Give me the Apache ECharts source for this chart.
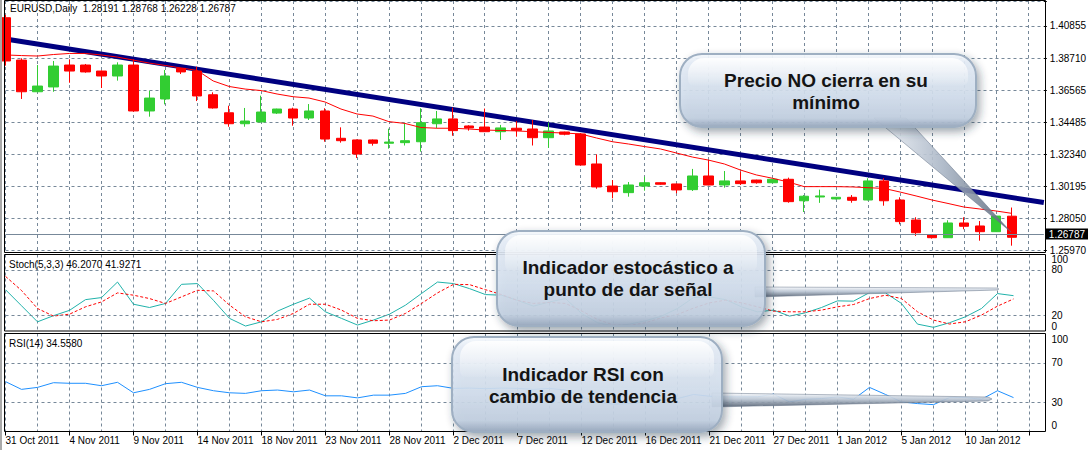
<!DOCTYPE html>
<html>
<head>
<meta charset="utf-8">
<script src="https://cdn.jsdelivr.net/npm/echarts/dist/echarts.min.js"></script>
<style>html,body{margin:0;padding:0;background:#fff}#c{width:1089px;height:450px}</style>
</head>
<body>
<div id="c"></div>
<script>
// ---------- data ----------
const dates = ['31 Oct 2011','1 Nov 2011','2 Nov 2011','3 Nov 2011','4 Nov 2011','6 Nov 2011','7 Nov 2011','8 Nov 2011','9 Nov 2011','10 Nov 2011','11 Nov 2011','13 Nov 2011','14 Nov 2011','15 Nov 2011','16 Nov 2011','17 Nov 2011','18 Nov 2011','20 Nov 2011','21 Nov 2011','22 Nov 2011','23 Nov 2011','24 Nov 2011','25 Nov 2011','27 Nov 2011','28 Nov 2011','29 Nov 2011','30 Nov 2011','1 Dec 2011','2 Dec 2011','4 Dec 2011','5 Dec 2011','6 Dec 2011','7 Dec 2011','8 Dec 2011','9 Dec 2011','11 Dec 2011','12 Dec 2011','13 Dec 2011','14 Dec 2011','15 Dec 2011','16 Dec 2011','18 Dec 2011','19 Dec 2011','20 Dec 2011','21 Dec 2011','22 Dec 2011','23 Dec 2011','26 Dec 2011','27 Dec 2011','28 Dec 2011','29 Dec 2011','30 Dec 2011','1 Jan 2012','2 Jan 2012','3 Jan 2012','4 Jan 2012','5 Jan 2012','6 Jan 2012','8 Jan 2012','9 Jan 2012','10 Jan 2012','11 Jan 2012','12 Jan 2012','13 Jan 2012'];

const opens  = [1.4141,1.3859,1.3648,1.3680,1.3826,1.3826,1.3786,1.3753,1.3826,1.3520,1.3600,1.3804,1.3786,1.3628,1.3508,1.3435,1.3447,1.3506,1.3533,1.3473,1.3520,1.3338,1.3327,1.3327,1.3305,1.3309,1.3315,1.3435,1.3467,1.3420,1.3413,1.3382,1.3405,1.3400,1.3342,1.3380,1.3367,1.3167,1.3020,1.2976,1.3020,1.3042,1.3034,1.2996,1.3087,1.3027,1.3054,1.3060,1.3042,1.3065,1.2922,1.2947,1.2934,1.2945,1.2927,1.3054,1.2927,1.2794,1.2694,1.2676,1.2774,1.2754,1.2716,1.28191];
const highs  = [1.4160,1.3871,1.3826,1.3853,1.3864,1.3833,1.3790,1.3844,1.3864,1.3655,1.3793,1.3806,1.3815,1.3644,1.3555,1.3540,1.3622,1.3535,1.3542,1.3566,1.3538,1.3411,1.3330,1.3330,1.3402,1.3442,1.3538,1.3520,1.3542,1.3425,1.3536,1.3427,1.3453,1.3460,1.3442,1.3382,1.3373,1.3231,1.3060,1.3047,1.3082,1.3045,1.3036,1.3134,1.3193,1.3120,1.3116,1.3062,1.3068,1.3076,1.2960,1.2996,1.2947,1.2960,1.3072,1.3072,1.2945,1.2812,1.2700,1.2792,1.2812,1.2787,1.2822,1.28768];
const lows   = [1.3822,1.3600,1.3645,1.3648,1.3708,1.3775,1.3673,1.3722,1.3515,1.3482,1.3564,1.3766,1.3586,1.3536,1.3415,1.3415,1.3445,1.3500,1.3422,1.3460,1.3315,1.3309,1.3207,1.3289,1.3269,1.3290,1.3249,1.3405,1.3355,1.3389,1.3380,1.3327,1.3349,1.3290,1.3275,1.3358,1.3158,1.3002,1.2938,1.2949,1.2989,1.3028,1.2972,1.2987,1.3025,1.3009,1.3027,1.3036,1.3040,1.2909,1.2847,1.2908,1.2932,1.2909,1.2925,1.2889,1.2765,1.2687,1.2670,1.2674,1.2732,1.2656,1.2714,1.26228];
const closes = [1.3853,1.3648,1.3686,1.3819,1.3786,1.3780,1.3753,1.3826,1.3520,1.3606,1.3753,1.3780,1.3620,1.3540,1.3435,1.3453,1.3513,1.3533,1.3473,1.3520,1.3333,1.3322,1.3233,1.3305,1.3313,1.3322,1.3442,1.3467,1.3389,1.3407,1.3382,1.3407,1.3391,1.3342,1.3387,1.3365,1.3160,1.3014,1.2982,1.3027,1.3042,1.3032,1.2994,1.3087,1.3027,1.3054,1.3036,1.3042,1.3065,1.2916,1.2952,1.2954,1.2945,1.2925,1.3054,1.2922,1.2783,1.2709,1.2676,1.2774,1.2752,1.2716,1.2820,1.26787];

const maValues = [1.3893,1.3889,1.3886,1.3896,1.3903,1.3903,1.3893,1.3879,1.3859,1.3839,1.3823,1.3806,1.3790,1.3720,1.3683,1.3666,1.3656,1.3633,1.3615,1.3606,1.3580,1.3533,1.3500,1.3486,1.3449,1.3437,1.3410,1.3405,1.3405,1.3400,1.3393,1.3390,1.3387,1.3382,1.3377,1.3373,1.3367,1.3340,1.3315,1.3300,1.3283,1.3267,1.3240,1.3213,1.3193,1.3167,1.3127,1.3094,1.3072,1.3047,1.3016,1.3016,1.3016,1.3014,1.3009,1.3004,1.2980,1.2954,1.2927,1.2904,1.2880,1.2867,1.2854,1.2838];

const trendLine = [1.3999, 1.2910];     // trend line value at the first and last slot
const lastPrice = 1.26787;

const stochK = [54,33,12,20,27,41,43.7,64,35,30.7,36,61,62,40,16.5,6.5,12,26,35,43,25,16.5,7.8,14.3,22,33.8,49,64,62,55.4,47.6,46.8,40,32.5,38,42.4,23,10.8,6.5,9,13.4,19.5,29.4,43.7,44.6,41,31.6,25,27.3,19.5,23.8,30.7,39.4,39,50.2,49.8,36,9,4.8,10.8,18.6,29.4,48.9,46.2];
const stochD = [71.4,53,29.4,19.5,22,31.6,38,49.8,46.8,42.4,36,44.6,53.2,52.4,33.8,18.6,12,15.2,23,35,35,27.3,16.5,13.4,14.3,23,36,49.8,61,60.6,54,47.6,40,36,37.3,36,26.4,15.2,7.8,7.4,10.8,17.3,21.6,29.9,36.8,40.3,36.8,31.6,26,25.1,25.1,27.3,31.6,34.6,42.4,46.8,42.4,25.1,14.3,9.1,12.1,20.8,32.5,41.9];
const rsiValues = [50.9,43,45,49.8,49.2,49.2,46.7,50.2,39.5,43,48.8,50.2,45,41.6,39.5,38.9,41.6,42.3,40.5,42.3,36.4,36.4,34.3,37.1,37.1,38.9,45.7,46.7,44,44.3,43.7,44.3,44,43,44,42.3,35.4,30.2,27.8,28.5,30.2,31.9,33.6,37.8,36,35.4,35.4,35.4,38.1,30.2,32.9,33.6,35.4,32.9,45,37.8,30.2,28.5,27.4,34.7,34.7,32.9,41.6,34.6];

const priceTickLabels = ['1.25970','1.28050','1.30195','1.32340','1.34485','1.36565','1.38710','1.40855'];
const stochEdgeLabels = [0, 100];
const stochLevels = [20, 80];
const rsiTickLabels = [0, 30, 70, 100];
const rsiLevels = [30, 70];

const headerMain = 'EURUSD,Daily  1.28191 1.28768 1.26228 1.26787';
const headerStoch = 'Stoch(5,3,3) 46.2070 41.9271';
const headerRsi = 'RSI(14) 34.5580';
const callout1Lines = ['Precio NO cierra en su', 'mínimo'];
const callout2Lines = ['Indicador estocástico a', 'punto de dar señal'];
const callout3Lines = ['Indicador RSI con', 'cambio de tendencia'];

// ---------- chart ----------
const FONT = '"Liberation Sans", Arial, sans-serif';
const GRID_COLOR = '#778899';
const cats = dates.concat(['', '']);
const priceMin = 1.2592;
const priceStep = priceMin / 59;
const priceMax = priceMin + 7.78 * priceStep;

const candleData = opens.map((o, i) => [o, closes[i], lows[i], highs[i]]);
const trendData = cats.map((_, i) => i === 0 ? trendLine[0] : (i === cats.length - 1 ? trendLine[1] : null));

const vGrid = {show: true, interval: 1, lineStyle: {color: GRID_COLOR, type: [3, 3], width: 1}};
function xAx(gi, withLabels) {
  return {
    type: 'category', gridIndex: gi, data: cats, boundaryGap: false,
    axisLine: {show: false},
    axisTick: withLabels ? {show: true, interval: 3, length: 4, lineStyle: {color: '#000'}} : {show: false},
    axisLabel: withLabels ? {show: true, interval: 3, align: 'left', margin: 4, color: '#000', fontSize: 10, fontFamily: FONT} : {show: false},
    splitLine: vGrid
  };
}
function edgeRich(pad) {
  return {
    t: {padding: [pad, 0, 0, 0], fontSize: 10, fontFamily: FONT, color: '#000'},
    b: {padding: [0, 0, pad, 0], fontSize: 10, fontFamily: FONT, color: '#000'}
  };
}
function levelLabel(list) {
  return function (v) {
    if (list.indexOf(v) < 0) return '';
    if (v === 100) return '{t|100}';
    if (v === 0) return '{b|0}';
    return String(v);
  };
}
function levelLines(levels) {
  return {
    silent: true, symbol: ['none', 'none'], label: {show: false},
    lineStyle: {color: GRID_COLOR, type: [3, 3], width: 1},
    data: levels.map(v => ({yAxis: v}))
  };
}
function pctAxis(gi, interval, list, pad) {
  return {type: 'value', gridIndex: gi, position: 'right', min: 0, max: 100, interval: interval,
    axisLine: {show: false}, axisTick: {show: false}, splitLine: {show: false},
    axisLabel: {margin: 6, color: '#000', fontSize: 10, fontFamily: FONT, showMinLabel: true, showMaxLabel: true,
      formatter: levelLabel(list), rich: edgeRich(pad)}};
}

const LG = echarts.graphic.LinearGradient;
function callout(b, ptr, ptrGrad, lines, cx, ys) {
  return [
    {type: 'polygon', silent: true, z: 100, shape: {points: ptr},
     style: {fill: ptrGrad, stroke: 'rgba(95,110,130,0.6)', lineWidth: 0.8}},
    {type: 'rect', silent: true, z: 101, shape: {x: b.x, y: b.y, width: b.w, height: b.h, r: 22},
     style: {fill: new LG(0, 0, 0, 1, [
        {offset: 0, color: 'rgba(246,249,253,0.95)'},
        {offset: 0.12, color: 'rgba(228,236,246,0.9)'},
        {offset: 0.55, color: 'rgba(212,224,239,0.88)'},
        {offset: 0.88, color: 'rgba(194,208,225,0.9)'},
        {offset: 1, color: 'rgba(150,166,188,0.95)'}]),
       stroke: '#9eafc2', lineWidth: 2,
       shadowBlur: 8, shadowOffsetX: 3, shadowOffsetY: 4, shadowColor: 'rgba(40,50,70,0.45)'}},
    {type: 'rect', silent: true, z: 102, shape: {x: b.x + 8, y: b.y + 4, width: b.w - 16, height: b.h * 0.38, r: [16, 16, 6, 6]},
     style: {fill: new LG(0, 0, 0, 1, [{offset: 0, color: 'rgba(255,255,255,0.9)'}, {offset: 1, color: 'rgba(255,255,255,0.05)'}])}}
  ].concat(lines.map((t, k) => ({
    type: 'text', silent: true, z: 103,
    style: {text: t, x: cx, y: ys[k], fill: '#141414', fontSize: 19, fontWeight: 'bold', fontFamily: FONT, align: 'center', verticalAlign: 'middle'}
  })));
}
const tubeGrad = () => new LG(0, 0, 0, 1, [
  {offset: 0, color: 'rgba(250,252,255,0.95)'},
  {offset: 0.45, color: 'rgba(185,196,210,0.92)'},
  {offset: 1, color: 'rgba(85,97,114,0.92)'}]);
const wedgeGrad = new LG(0, 0, 1, 0, [
  {offset: 0, color: 'rgba(245,248,252,0.92)'},
  {offset: 0.5, color: 'rgba(170,182,198,0.9)'},
  {offset: 1, color: 'rgba(90,102,120,0.9)'}]);

const frame = (y, h) => ({type: 'rect', silent: true, z: 50, shape: {x: 4.5, y: y, width: 1041, height: h},
  style: {fill: 'none', stroke: '#000', lineWidth: 1}});
const header = (t, x, y) => ({type: 'text', silent: true, z: 60,
  style: {text: t, x: x, y: y, fill: '#000', fontSize: 10, fontFamily: FONT, verticalAlign: 'middle'}});

const option = {
  animation: false,
  backgroundColor: '#fff',
  grid: [
    {left: 5.5, right: 43.5, top: 1, height: 249.3, show: false},
    {left: 5.5, right: 43.5, top: 254.5, height: 76.5, show: false},
    {left: 5.5, right: 43.5, top: 333.5, height: 98, show: false}
  ],
  xAxis: [xAx(0, false), xAx(1, false), xAx(2, true)],
  yAxis: [
    {type: 'value', gridIndex: 0, position: 'right', min: priceMin, max: priceMax, interval: priceStep,
     axisLine: {show: false}, axisTick: {show: true, length: 3, lineStyle: {color: '#000'}},
     axisLabel: {margin: 6, color: '#000', fontSize: 10, fontFamily: FONT, showMinLabel: true,
       formatter: v => priceTickLabels[Math.round((v - priceMin) / priceStep)] || ''},
     splitLine: {show: true, lineStyle: {color: GRID_COLOR, type: [3, 3], width: 1}}},
    pctAxis(1, 20, stochEdgeLabels, 10),
    pctAxis(2, 10, rsiTickLabels, 12),
    pctAxis(1, 20, stochLevels, 10)
  ],
  series: [
    {type: 'line', name: 'trend', xAxisIndex: 0, yAxisIndex: 0, data: trendData, connectNulls: true,
     symbol: 'none', lineStyle: {color: '#000080', width: 5}, z: 2, silent: true},
    {type: 'candlestick', name: 'EURUSD', xAxisIndex: 0, yAxisIndex: 0, data: candleData, barWidth: 10, z: 3,
     itemStyle: {color: '#32cd32', color0: '#ff0000', borderColor: '#32cd32', borderColor0: '#ff0000', borderWidth: 1},
     markLine: {silent: true, symbol: ['none', 'none'],
       lineStyle: {color: GRID_COLOR, type: 'solid', width: 1},
       label: {show: true, position: 'end', distance: 2, formatter: lastPrice.toFixed(5), color: '#fff',
               backgroundColor: '#000', padding: [1, 3, 0, 3], fontSize: 10, fontFamily: FONT},
       data: [{yAxis: lastPrice}]}},
    {type: 'line', name: 'MA', xAxisIndex: 0, yAxisIndex: 0, data: maValues, symbol: 'none',
     lineStyle: {color: '#ff0000', width: 1}, z: 4, silent: true},
    {type: 'line', name: '%K', xAxisIndex: 1, yAxisIndex: 1, data: stochK, symbol: 'none',
     lineStyle: {color: '#20b2aa', width: 1}, z: 4, silent: true, markLine: levelLines(stochLevels)},
    {type: 'line', name: '%D', xAxisIndex: 1, yAxisIndex: 1, data: stochD, symbol: 'none',
     lineStyle: {color: '#ff0000', width: 1, type: [3, 2]}, z: 4, silent: true},
    {type: 'line', name: 'RSI', xAxisIndex: 2, yAxisIndex: 2, data: rsiValues, symbol: 'none',
     lineStyle: {color: '#1e90ff', width: 1}, z: 4, silent: true, markLine: levelLines(rsiLevels)}
  ],
  graphic: [
    {type: 'rect', silent: true, z: 49, shape: {x: 0, y: 0, width: 2, height: 450}, style: {fill: '#a9a9a9'}},
    frame(0.5, 252), frame(254.5, 76.5), frame(333.5, 98),
    header(headerMain, 10, 8.5), header(headerStoch, 9, 264.5), header(headerRsi, 9, 343.5)
  ].concat(
    callout({x: 680, y: 54, w: 296, h: 73}, [[874, 118], [906, 118], [1011, 232]], wedgeGrad, callout1Lines, 826, [80.6, 102.8]),
    callout({x: 497, y: 231, w: 268, h: 95}, [[755, 287], [997, 288], [999, 289], [997, 290], [755, 297]], tubeGrad(), callout2Lines, 628, [267.3, 289.3]),
    callout({x: 452, y: 337, w: 270, h: 95}, [[712, 393], [988, 397], [992, 399], [988, 401], [712, 407]], tubeGrad(), callout3Lines, 583, [374.3, 396.3])
  )
};

const chart = echarts.init(document.getElementById('c'), null, {renderer: 'svg', width: 1089, height: 450});
chart.setOption(option);
</script>
</body>
</html>
